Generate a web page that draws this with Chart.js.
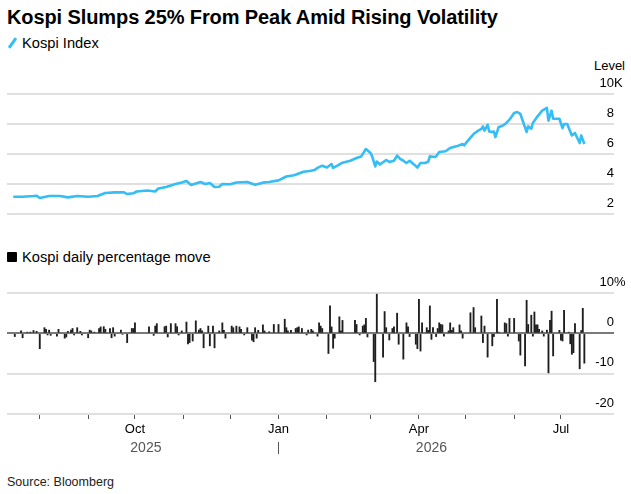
<!DOCTYPE html>
<html>
<head>
<meta charset="utf-8">
<script src="https://cdn.jsdelivr.net/npm/chart.js@4.4.1/dist/chart.umd.min.js"></script>
<style>
  body { margin: 0; width: 631px; height: 494px; background: #fff; position: relative; overflow: hidden;
         font-family: "Liberation Sans", Arial, sans-serif; color: #000; }
  .abs { position: absolute; white-space: nowrap; }
  #title { left: 7px; top: 5px; font-size: 20px; line-height: 24px; font-weight: bold; letter-spacing: -0.1px; }
  #leg1 { left: 22px; top: 35px; font-size: 14.7px; line-height: 16px; }
  #slash { left: 11px; top: 37px; width: 3px; height: 12px; background: #35bdf5; transform: rotate(35deg); }
  #level { right: 6px; top: 58px; font-size: 13px; line-height: 16px; }
  #leg2 { left: 22px; top: 249px; font-size: 14.7px; line-height: 16px; }
  #square { left: 7px; top: 252px; width: 10px; height: 10px; background: #000; border-radius: 1px; }
  #source { left: 7px; top: 475px; font-size: 12.5px; line-height: 14px; color: #222; }
  #c1 { left: 0; top: 60px; }
  #c2 { left: 0; top: 270px; }
</style>
</head>
<body>
<div class="abs" id="title">Kospi Slumps 25% From Peak Amid Rising Volatility</div>
<div class="abs" id="slash"></div>
<div class="abs" id="leg1">Kospi Index</div>
<div class="abs" id="level">Level</div>
<canvas class="abs" id="c1" width="631" height="165"></canvas>
<div class="abs" id="square"></div>
<div class="abs" id="leg2">Kospi daily percentage move</div>
<canvas class="abs" id="c2" width="631" height="200"></canvas>
<div class="abs" id="source">Source: Bloomberg</div>

<script>
// x values are days counted from 1 Aug 2025
const DAY_ZERO = Date.UTC(2025, 7, 1);

// Kospi index level, thousands
const indexDays = [
  -17, -11, -4, -2, 0, 6, 13, 18, 24, 31,
  37, 42, 48, 54, 56, 60, 62, 69, 74, 76,
  81, 87, 91, 94, 97, 103, 106, 109, 112, 115,
  117, 122, 126, 133, 138, 143, 147, 153, 158, 163,
  169, 173, 176, 178, 181, 184, 187, 188, 191, 194,
  199, 203, 206, 209, 212, 213, 215, 216, 218, 222,
  224, 227, 229, 231, 233, 235, 237, 240, 242, 244,
  247, 249, 250, 253, 254, 256, 260, 263, 267, 271,
  272, 274, 278, 281, 283, 284, 285, 287, 288, 290,
  291, 292, 294, 297, 299, 301, 304, 306, 308, 310,
  312, 313, 315, 316, 319, 322, 325, 326, 328, 329,
  333, 335, 336, 338, 341, 343, 346, 347, 349
];
const indexLevels = [
  3.15, 3.15, 3.2, 3.22, 3.07, 3.2, 3.2, 3.11, 3.2, 3.15,
  3.2, 3.4, 3.44, 3.44, 3.33, 3.38, 3.5, 3.57, 3.5, 3.7,
  3.8, 4.0, 4.1, 4.2, 3.93, 4.13, 4.0, 4.07, 3.8, 3.82,
  4.0, 3.98, 4.1, 4.13, 3.95, 4.09, 4.13, 4.24, 4.5, 4.58,
  4.82, 4.87, 4.93, 5.07, 5.22, 5.1, 5.33, 5.07, 5.24, 5.42,
  5.55, 5.73, 5.84, 6.33, 6.07, 5.84, 5.17, 5.5, 5.3, 5.6,
  5.47, 5.55, 5.89, 5.67, 5.55, 5.4, 5.55, 5.29, 5.1, 5.4,
  5.4, 5.5, 5.84, 5.8, 5.84, 6.13, 6.18, 6.4, 6.51, 6.67,
  6.58, 6.84, 7.33, 7.56, 7.67, 7.84, 7.56, 7.95, 7.51, 7.47,
  7.5, 7.13, 7.78, 7.91, 8.07, 8.29, 8.73, 8.8, 8.67, 8.07,
  7.47, 7.84, 7.69, 8.07, 8.51, 8.89, 9.07, 8.22, 8.89, 8.35,
  8.35, 7.73, 8.0, 8.0, 7.24, 7.4, 6.73, 7.24, 6.67
];

// daily % move (only visible bars)
const moveDays = [
  -16, -12, -11, -8, -6, -4, -2, 0, 3, 4,
  5, 6, 7, 11, 12, 16, 17, 18, 20, 21,
  22, 24, 26, 27, 31, 32, 33, 35, 38, 39,
  41, 42, 45, 46, 47, 48, 52, 53, 56, 59,
  60, 61, 70, 73, 74, 75, 80, 81, 82, 84,
  87, 88, 89, 91, 94, 95, 96, 98, 100, 102,
  103, 104, 105, 108, 109, 111, 112, 115, 117, 118,
  119, 123, 124, 126, 128, 129, 131, 133, 136, 137,
  138, 139, 140, 143, 144, 147, 150, 153, 157, 158,
  159, 161, 164, 165, 166, 168, 171, 172, 174, 175,
  178, 179, 180, 181, 185, 186, 187, 188, 189, 192,
  193, 194, 202, 203, 205, 207, 208, 209, 210, 214,
  215, 216, 220, 221, 222, 224, 226, 227, 229, 230,
  233, 235, 236, 237, 241, 242, 243, 244, 245, 248,
  249, 250, 251, 252, 254, 255, 256, 257, 258, 259,
  262, 263, 264, 265, 269, 270, 271, 276, 278, 279,
  283, 284, 285, 287, 290, 291, 293, 294, 298, 299,
  300, 301, 304, 307, 308, 311, 312, 313, 315, 316,
  317, 318, 319, 320, 322, 323, 325, 326, 327, 328,
  329, 333, 334, 335, 336, 339, 340, 341, 342, 343,
  346, 347, 348, 349
];
const moveValues = [
  -0.8, 0.6, -1.1, 0.3, 0.3, 0.7, 0.5, -3.8, 1.4, 1.0,
  -0.4, 0.8, -0.5, -0.7, 1.0, -1.2, -0.9, 0.5, 0.8, 1.2,
  -0.4, 1.4, 0.5, -0.4, -1.1, 0.8, 0.6, 0.3, 1.2, 1.6,
  1.65, 1.0, 1.2, -1.1, 1.4, -0.7, 0.8, -0.25, -2.3, 1.2,
  1.2, 2.6, 1.6, -0.5, 1.8, 2.4, 1.65, 1.8, -0.9, 2.4,
  2.4, 1.65, -0.4, 0.6, 2.8, -2.6, -2.3, -1.9, 3.1, 0.8,
  1.2, 0.6, -3.6, 1.8, -3.1, 1.8, -3.6, 0.6, 2.6, 0.75,
  -1.2, 1.8, 1.4, 1.8, 1.6, 1.0, -0.4, 1.4, -1.7, -2.1,
  1.4, -1.2, 0.75, 2.1, 0.6, 0.4, 2.2, 2.2, 3.5, 1.4,
  0.6, 0.75, 1.2, 1.4, 1.6, 1.2, -0.4, 0.8, 1.0, 0.6,
  -0.7, 2.6, 1.8, 1.2, -5.0, 6.8, 1.6, -3.7, -1.2, 4.1,
  0.6, 3.2, 3.2, 2.2, -0.4, 1.8, 2.1, 3.7, -0.9, -7.0,
  -12.0, 9.7, -5.9, 5.4, 1.4, -1.65, 1.2, 1.6, 5.0, -2.7,
  -6.4, 2.6, 1.6, -0.8, -2.7, -3.8, 8.4, -4.4, 2.6, 1.4,
  0.75, 6.8, -1.5, 1.4, -0.8, 1.2, 2.6, 2.2, 2.1, -0.7,
  0.6, 2.6, 0.75, 1.4, 2.1, 0.6, -1.2, 5.1, 6.4, 1.4,
  4.3, -2.3, 1.8, -5.9, -3.1, -0.8, 8.4, 0.3, 2.6, 2.4,
  -0.7, 3.7, 3.7, -1.9, -5.4, -8.1, 8.2, 2.2, 4.5, -0.7,
  5.3, 2.1, 2.1, 1.0, 0.6, -0.7, 0.8, -9.8, 3.2, 5.5,
  -5.6, 0.75, -1.7, -1.9, 5.7, 0.3, -2.6, -5.2, -4.8, 2.4,
  -8.8, 0.7, 6.2, -7.4
];

const monthTickDates = ['2025-08-01', '2025-09-01', '2025-10-01', '2025-11-01', '2025-12-01', '2026-01-01',
                        '2026-02-01', '2026-03-01', '2026-04-01', '2026-05-01', '2026-06-01', '2026-07-01'];
const monthTickLabels = ['', '', 'Oct', '', '', 'Jan', '', '', 'Apr', '', '', 'Jul'];
const yearLabels = ['2025', '2026'];
const levelTicks = [2, 4, 6, 8, 10];
const moveTicks = [-20, -10, 0, 10];

const X_MIN = -21, X_MAX = 368;
const LIFT = -11;  // labels sit above their gridline
const FONT = '"Liberation Sans", Arial, sans-serif';

Chart.defaults.font.family = FONT;
Chart.defaults.font.size = 13;
Chart.defaults.color = '#000';

function toDay(iso) {
  return (Date.parse(iso) - DAY_ZERO) / 864e5;
}
const monthTickDays = monthTickDates.map(toDay);
const newYearDay = toDay('2026-01-01');
const firstDay = Math.min(indexDays[0], moveDays[0]);
const lastDay = indexDays[indexDays.length - 1];
const yearTickDays = [(firstDay + newYearDay) / 2, newYearDay, (newYearDay + lastDay) / 2];

// draws the unit after the top tick number (10K, 10%)
const unitSuffix = {
  id: 'unitSuffix',
  afterDraw(chart, args, opts) {
    const y = chart.scales.y;
    const ctx = chart.ctx;
    ctx.save();
    ctx.font = '13px ' + FONT;
    ctx.fillStyle = '#000';
    ctx.textAlign = 'left';
    ctx.textBaseline = 'middle';
    ctx.fillText(opts.text, chart.chartArea.right + opts.dx, y.getPixelForValue(y.max) + LIFT);
    ctx.restore();
  }
};

function yAxis(ticks, gridColor) {
  return {
    position: 'right',
    min: ticks[0],
    max: ticks[ticks.length - 1],
    afterBuildTicks: (s) => { s.ticks = ticks.map(v => ({ value: v })); },
    border: { display: false },
    grid: { color: gridColor, lineWidth: 2, drawTicks: false },
    ticks: { mirror: true, padding: 0, labelOffset: LIFT, font: { size: 13 } }
  };
}

// top: index level
new Chart(document.getElementById('c1'), {
  type: 'line',
  data: {
    datasets: [{
      data: indexDays.map((d, i) => ({ x: d, y: indexLevels[i] })),
      borderColor: '#35bdf5',
      borderWidth: 2.6,
      borderJoinStyle: 'round',
      pointRadius: 0,
      tension: 0
    }]
  },
  options: {
    responsive: false,
    animation: false,
    layout: { padding: { left: 7, right: 17, top: 34, bottom: 11 } },
    plugins: { legend: { display: false }, tooltip: { enabled: false }, unitSuffix: { text: 'K', dx: 0 } },
    scales: {
      x: { type: 'linear', min: X_MIN, max: X_MAX, display: false },
      y: yAxis(levelTicks, '#e0e0e0')
    }
  },
  plugins: [unitSuffix]
});

// bottom: daily moves
const yMove = yAxis(moveTicks, (ctx) => ctx.tick && ctx.tick.value === 0 ? '#7a7a7a' : '#e0e0e0');

new Chart(document.getElementById('c2'), {
  type: 'bar',
  data: {
    datasets: [{
      data: moveDays.map((d, i) => ({ x: d, y: moveValues[i] })),
      backgroundColor: '#1e1e1e',
      barThickness: 1.2
    }]
  },
  options: {
    responsive: false,
    animation: false,
    layout: { padding: { left: 7, right: 17, top: 23, bottom: 12 } },
    plugins: { legend: { display: false }, tooltip: { enabled: false }, unitSuffix: { text: '%', dx: 0 } },
    scales: {
      x: {
        type: 'linear', min: X_MIN, max: X_MAX, offset: false, weight: 0,
        afterBuildTicks: (s) => { s.ticks = monthTickDays.map(v => ({ value: v })); },
        afterFit: (s) => { s.height = 28; },
        border: { display: false },
        grid: { drawOnChartArea: false, offset: false, tickLength: 5, tickColor: '#555', tickWidth: 1 },
        ticks: {
          autoSkip: false, maxRotation: 0, padding: 3, font: { size: 13 },
          callback: (v) => monthTickLabels[monthTickDays.indexOf(v)] || ''
        }
      },
      x2: {
        type: 'linear', position: 'bottom', min: X_MIN, max: X_MAX, offset: false, weight: 1,
        afterBuildTicks: (s) => { s.ticks = yearTickDays.map(v => ({ value: v })); },
        afterFit: (s) => { s.height = 16; },
        border: { display: false },
        grid: {
          drawOnChartArea: false, offset: false, tickLength: 12, tickWidth: 1,
          tickColor: (ctx) => ctx.tick && ctx.tick.value === newYearDay ? '#555' : 'rgba(0,0,0,0)'
        },
        ticks: {
          autoSkip: false, maxRotation: 0, padding: -14, color: '#555', font: { size: 14 },
          callback: (v) => v === newYearDay ? '' : (v < newYearDay ? yearLabels[0] : yearLabels[1])
        }
      },
      y: yMove
    }
  },
  plugins: [unitSuffix]
});
</script>
</body>
</html>
